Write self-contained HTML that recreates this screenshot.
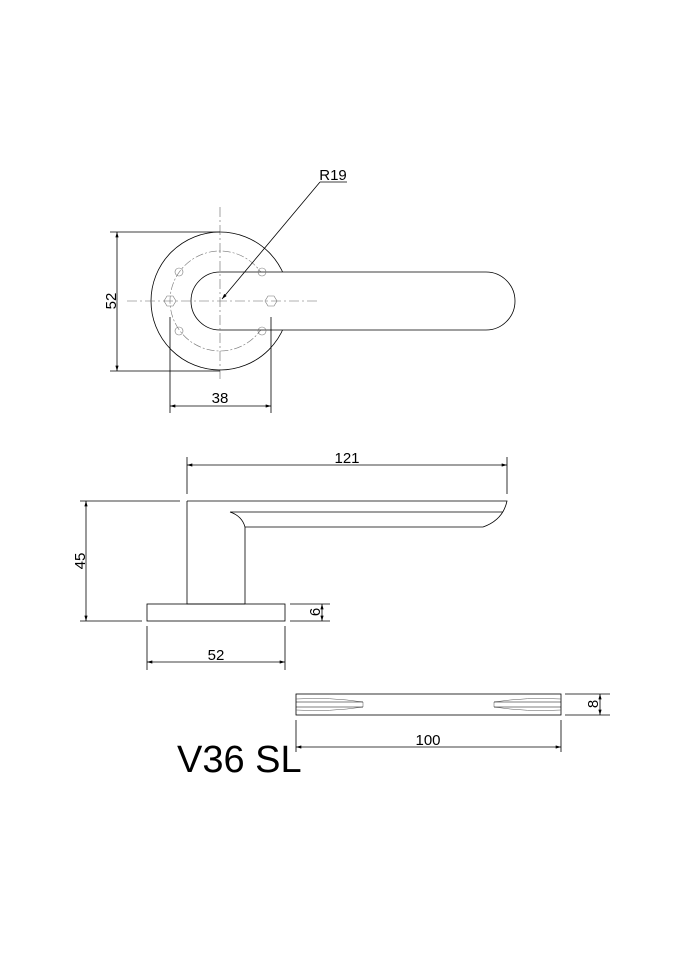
<!DOCTYPE html>
<html><head><style>body{margin:0;background:#fff}svg{display:block}text{font-family:"Liberation Sans",sans-serif;fill:#000}</style></head><body>
<svg width="685" height="970" viewBox="0 0 685 970" xmlns="http://www.w3.org/2000/svg">
<defs><marker id="a" viewBox="0 0 10 6" refX="10" refY="3" markerWidth="8" markerHeight="4" orient="auto-start-reverse"><path d="M0,0L10,3L0,6z" fill="#000"/></marker></defs>
<g fill="none" stroke="#000" stroke-width="0.8">
<circle cx="220" cy="301" r="69"/>
<circle cx="220" cy="301" r="50" stroke="#777" stroke-width="0.6" stroke-dasharray="8,2,2,2"/>
<path d="M220,272 H486 A29,29 0 0 1 486,330 H220 A29,29 0 0 1 220,272 Z" fill="#fff"/>
<path d="M127,301 H317 M220,207 V380" stroke="#666" stroke-width="0.6" stroke-dasharray="10,3,2,3"/>
<polygon points="164,301 167,296 173,296 176,301 173,306 167,306" stroke="#777" stroke-width="0.6"/>
<polygon points="265,301 268,296 274,296 277,301 274,306 268,306" stroke="#777" stroke-width="0.6"/>
<g stroke="#777" stroke-width="0.6"><circle cx="179" cy="272" r="4"/><circle cx="262" cy="272" r="4"/><circle cx="179" cy="331" r="4"/><circle cx="262" cy="331" r="4"/></g>
<path d="M110,232 H220 M110,371 H220"/>
<line x1="117" y1="232" x2="117" y2="371" marker-start="url(#a)" marker-end="url(#a)"/>
<path d="M170,317 V413 M271,317 V413"/>
<line x1="170" y1="406" x2="271" y2="406" marker-start="url(#a)" marker-end="url(#a)"/>
<line x1="320" y1="182" x2="222" y2="299" marker-end="url(#a)"/>
<path d="M320,182 H347"/>
<path d="M187,457 V494 M507,457 V494"/>
<line x1="187" y1="465" x2="507" y2="465" marker-start="url(#a)" marker-end="url(#a)"/>
<path d="M187,501 H507 Q503,520 483,527 H245 V604 M187,501 V604 H245"/>
<path d="M230,512 H503 M230,512 Q242,516 245,527"/>
<rect x="147" y="604" width="138" height="17"/>
<path d="M80,501 H180 M80,621 H142"/>
<line x1="86" y1="501" x2="86" y2="621" marker-start="url(#a)" marker-end="url(#a)"/>
<path d="M290,604 H330 M290,621 H330"/>
<line x1="322" y1="604" x2="322" y2="621" marker-start="url(#a)" marker-end="url(#a)"/>
<path d="M147,626 V670 M285,626 V670"/>
<line x1="147" y1="662" x2="285" y2="662" marker-start="url(#a)" marker-end="url(#a)"/>
<rect x="296" y="694" width="265" height="21"/>
<path d="M296,699 Q330,697 363,702 L363,707 Q330,712 296,710" stroke="#555" stroke-width="0.5"/>
<path d="M296,702 H363 M296,707 H363" stroke-width="0.6"/>
<path d="M561,699 Q527,697 494,702 L494,707 Q527,712 561,710" stroke="#555" stroke-width="0.5"/>
<path d="M494,702 H561 M494,707 H561" stroke-width="0.6"/>
<path d="M565,694 H610 M565,715 H610"/>
<line x1="600" y1="694" x2="600" y2="715" marker-start="url(#a)" marker-end="url(#a)"/>
<path d="M296,720 V752 M561,720 V752"/>
<line x1="296" y1="747" x2="561" y2="747" marker-start="url(#a)" marker-end="url(#a)"/>
</g>
<g font-size="15">
<text x="333" y="180" text-anchor="middle">R19</text>
<text transform="translate(116,301) rotate(-90)" text-anchor="middle">52</text>
<text x="220" y="403" text-anchor="middle">38</text>
<text x="347" y="463" text-anchor="middle">121</text>
<text transform="translate(85,561) rotate(-90)" text-anchor="middle">45</text>
<text transform="translate(320,612) rotate(-90)" text-anchor="middle">6</text>
<text x="216" y="660" text-anchor="middle">52</text>
<text transform="translate(598,704) rotate(-90)" text-anchor="middle">8</text>
<text x="428" y="745" text-anchor="middle">100</text>
</g>
<text x="177" y="772" font-size="38">V36 SL</text>
</svg>
</body></html>
